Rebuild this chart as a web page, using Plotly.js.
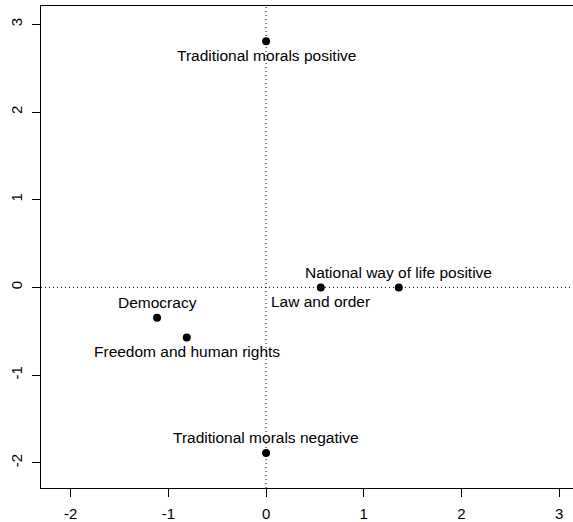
<!DOCTYPE html>
<html>
<head>
<meta charset="utf-8">
<script src="https://cdn.plot.ly/plotly-3.0.1.min.js"></script>
<style>html,body{margin:0;padding:0;overflow:hidden;background:#fff;}#chart{width:580px;height:522px;}</style>
</head>
<body>
<div id="chart"></div>
<script>
const labels = ["Traditional morals positive","Traditional morals negative","Democracy","Freedom and human rights","Law and order","National way of life positive"];
const xVals = [0, 0, -1.116, -0.812, 0.56, 1.358];
const yVals = [2.806, -1.888, -0.345, -0.573, 0, 0];
const labelSide = ["below","above","above","below","below","above"];
const xTicks = [-2,-1,0,1,2,3];
const yTicks = [-2,-1,0,1,2,3];

const font = {family: "Liberation Sans, Arial, Helvetica, sans-serif", size: 15, color: "#000"};
const labelFont = {family: "Liberation Sans, Arial, Helvetica, sans-serif", size: 15.5, color: "#000"};

const trace = {
  x: xVals, y: yVals, type: "scatter", mode: "markers",
  marker: {color: "#000", size: 8},
  hoverinfo: "none", showlegend: false
};

const annotations = labels.map((t, i) => ({
  x: xVals[i], y: yVals[i], xref: "x", yref: "y", text: t, showarrow: false,
  xanchor: "center", yanchor: "middle",
  yshift: labelSide[i] === "above" ? 15 : -14,
  font: labelFont
}));

const shapes = [
  {type: "line", xref: "paper", yref: "y", x0: 0, x1: 1, y0: 0, y1: 0, line: {color: "#000", width: 1, dash: "1px,3px"}},
  {type: "line", xref: "x", yref: "paper", x0: 0, x1: 0, y0: 0, y1: 1, line: {color: "#000", width: 1, dash: "1px,3px"}}
];

const layout = {
  width: 580, height: 522,
  margin: {l: 41, r: 2, t: 6, b: 34},
  paper_bgcolor: "#fff", plot_bgcolor: "#fff",
  font: font,
  xaxis: {range: [-2.304, 3.193], tickvals: xTicks, ticktext: xTicks.map(String), showgrid: false, zeroline: false,
    showline: true, mirror: true, linecolor: "#000", linewidth: 1, ticks: "outside", ticklen: 8, tickcolor: "#000",
    tickfont: font, ticklabelstandoff: 4},
  yaxis: {range: [-2.288, 3.209], tickvals: yTicks, ticktext: yTicks.map(String), showgrid: false, zeroline: false,
    showline: true, mirror: true, linecolor: "#000", linewidth: 1, ticks: "outside", ticklen: 8, tickcolor: "#000",
    tickfont: font, tickangle: -90, ticklabelstandoff: 4},
  annotations: annotations,
  shapes: shapes
};

Plotly.newPlot("chart", [trace], layout, {displayModeBar: false, staticPlot: true});
</script>
</body>
</html>
